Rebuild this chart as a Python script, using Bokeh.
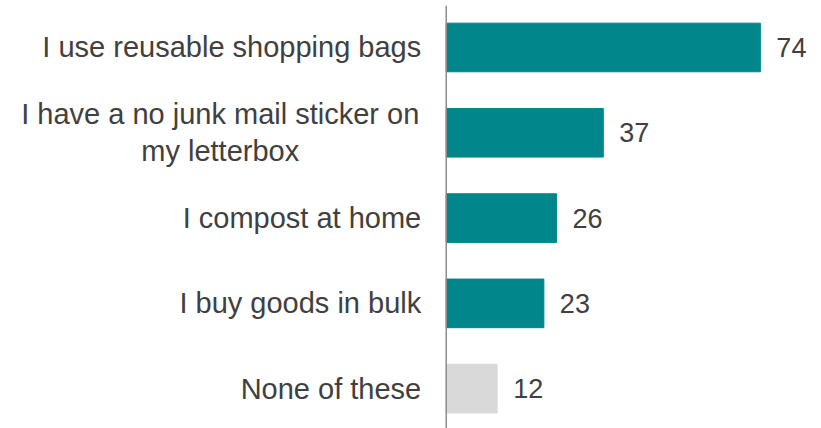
from bokeh.plotting import figure
from bokeh.models import ColumnDataSource, Range1d, Span
from bokeh.core.properties import value
from bokeh.embed import file_html
from bokeh.resources import INLINE

# ---- data ----
categories = [
    "I use reusable shopping bags",
    "I have a no junk mail sticker on\nmy letterbox",
    "I compost at home",
    "I buy goods in bulk",
    "None of these",
]
values = [74, 37, 26, 23, 12]

# ---- styling ----
TEAL = "#00868B"
GREY = "#D9D9D9"
TEXT = "#404040"

pos = list(range(len(categories)))
colors = [GREY if c == "None of these" else TEAL for c in categories]
multi = ["\n" in c for c in categories]
cat_align = ["center" if m else "right" for m in multi]
cat_xoff = [-226 if m else -25 for m in multi]

src = ColumnDataSource(dict(
    y=pos, v=values, cat=categories, color=colors,
    lab=[str(v) for v in values], calign=cat_align, cxoff=cat_xoff,
))

p = figure(
    width=821, height=428,
    x_range=Range1d(-105.0, 88.4),
    y_range=Range1d(4.467, -0.492),
    x_axis_type=None, y_axis_type=None,
    output_backend="svg", toolbar_location=None,
    min_border=0, min_border_top=5, outline_line_color=None,
)
p.grid.visible = False

p.hbar(y="y", left=0, right="v", height=0.57, color="color", source=src)

p.add_layout(Span(location=0, dimension="height", line_color="#8C8C8C", line_width=1.5))

p.text(x="v", y="y", text="lab", source=src, x_offset=16,
       text_align="left", text_baseline="middle",
       text_font=value("Liberation Sans"), text_font_size="27px", text_color=TEXT)

p.text(x=0, y="y", text="cat", source=src, x_offset="cxoff",
       text_align="calign", text_baseline="middle",
       text_font=value("Liberation Sans"), text_font_size="29px", text_color=TEXT,
       text_line_height=1.15)

open("out.html", "w").write(file_html(p, INLINE))
